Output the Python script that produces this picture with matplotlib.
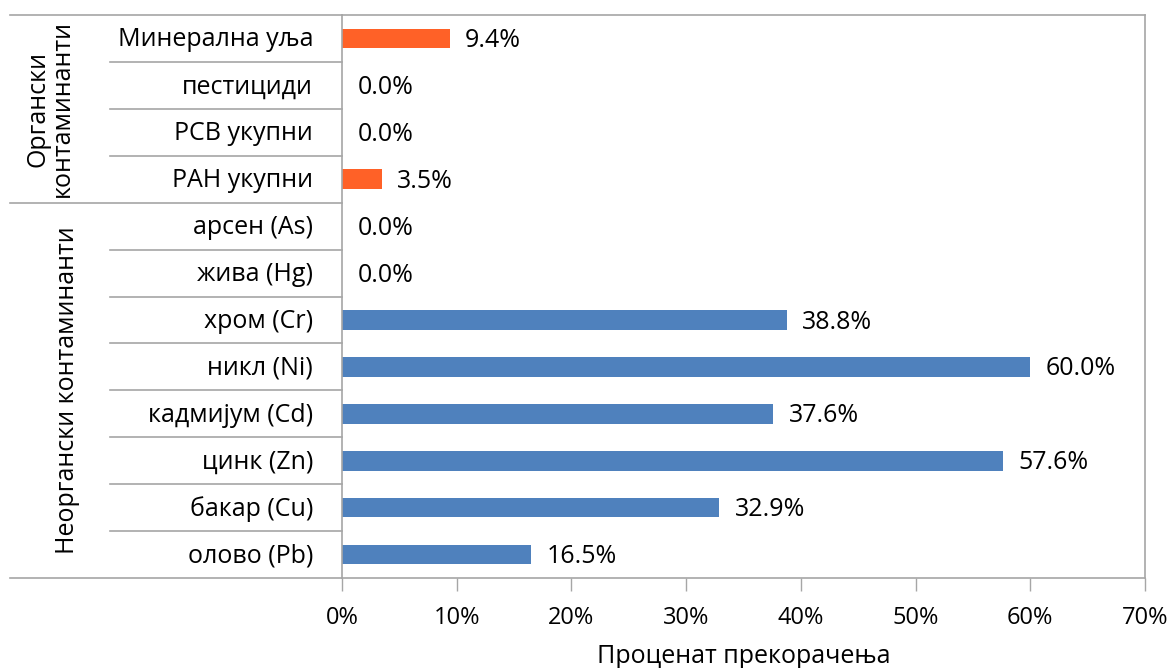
import matplotlib
matplotlib.use("Agg")
import matplotlib.pyplot as plt
from matplotlib.ticker import MultipleLocator, FuncFormatter

plt.rcParams['font.family'] = ['Open Sans', 'DejaVu Sans']

# Categories listed top to bottom
categories = [
    "Минерална уља", "пестициди", "PCB укупни", "PAH укупни",
    "арсен (As)", "жива (Hg)", "хром (Cr)", "никл (Ni)",
    "кадмијум (Cd)", "цинк (Zn)", "бакар (Cu)", "олово (Pb)",
]
values = [9.4, 0.0, 0.0, 3.5, 0.0, 0.0, 38.8, 60.0, 37.6, 57.6, 32.9, 16.5]
groups = ["Органски\nконтаминанти", "Неоргански контаминанти"]
group_sizes = [4, 8]
group_colors = ["#FF6127", "#4F81BD"]
x_label = "Проценат прекорачења"
x_max = 70

FS = 18

W, H = 1172, 668
fig = plt.figure(figsize=(W / 100, H / 100), dpi=100)
left_px, right_px, top_px, bottom_px = 342, 1145, 15, 578
ax = fig.add_axes([left_px / W, 1 - bottom_px / H,
                   (right_px - left_px) / W, (bottom_px - top_px) / H])

n = len(categories)
ypos = list(range(n - 1, -1, -1))
colors = []
for g, size in enumerate(group_sizes):
    colors += [group_colors[g]] * size

ax.barh(ypos, values, height=0.42, color=colors, zorder=2)
for y, v in zip(ypos, values):
    ax.annotate(f"{v:.1f}%", (v, y), xytext=(11, -1.5), textcoords="offset points",
                ha="left", va="center", fontsize=FS, color="#000000")

ax.set_xlim(0, x_max)
ax.set_ylim(-0.5, n - 0.5)
ax.xaxis.set_major_locator(MultipleLocator(10))
ax.xaxis.set_major_formatter(FuncFormatter(lambda v, p: f"{v:.0f}%"))
ax.tick_params(axis="x", length=9, width=1, color="#A6A6A6", labelsize=17, pad=11)
ax.set_yticks([])
ax.set_xlabel(x_label, fontsize=FS, labelpad=10)

line_color = "#A6A6A6"
for s in ax.spines.values():
    s.set_color(line_color)
    s.set_linewidth(1.2)

# Category table to the left of the plot
px = right_px - left_px
x_outer = (10 - left_px) / px
x_inner = (110 - left_px) / px
label_x = (313 - left_px) / px

trans = ax.get_yaxis_transform()
for y, name in zip(ypos, categories):
    ax.text(label_x, y - 0.03, name, transform=trans, ha="right", va="center", fontsize=FS)

# separators between categories inside groups
start = 0
for size in group_sizes:
    for k in range(1, size):
        yy = n - (start + k) - 0.5
        ax.plot([x_inner, 0], [yy, yy], transform=trans, color=line_color,
                lw=1.2, clip_on=False)
    start += size

# group boundaries
bounds = [n - 0.5]
acc = 0
for size in group_sizes:
    acc += size
    bounds.append(n - acc - 0.5)
for yy in bounds:
    ax.plot([x_outer, 0], [yy, yy], transform=trans, color=line_color,
            lw=1.2, clip_on=False)

# group titles
group_x = [(50 - left_px) / px, (68 - left_px) / px]
for g, size in enumerate(group_sizes):
    ytop, ybot = bounds[g], bounds[g + 1]
    ax.text(group_x[g], (ytop + ybot) / 2, groups[g], transform=trans,
            rotation=90, ha="center", va="center", fontsize=FS,
            multialignment="center", linespacing=1.0)

fig.savefig("out.png", dpi=100)
